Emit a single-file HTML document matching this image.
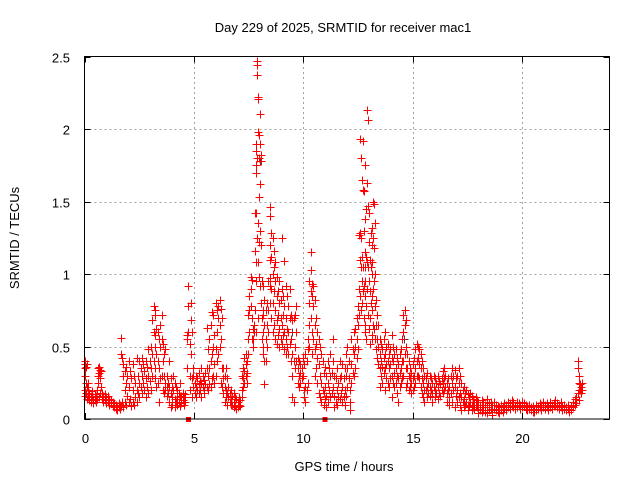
<!DOCTYPE html>
<html><head><meta charset="utf-8"><style>
html,body{margin:0;padding:0;background:#fff;}
svg{display:block;font-family:"Liberation Sans",sans-serif;}
</style></head><body>
<svg id="chart" width="640" height="480" viewBox="0 0 640 480">
<rect x="0" y="0" width="640" height="480" fill="#fff"/>
<text x="343" y="32" font-size="13" text-anchor="middle" fill="#000">Day 229 of 2025, SRMTID for receiver mac1</text>
<text x="344" y="471" font-size="13" text-anchor="middle" fill="#000">GPS time / hours</text>
<text x="19" y="238" font-size="13" text-anchor="middle" fill="#000" transform="rotate(-90 19 238)">SRMTID / TECUs</text>
<g id="grid"></g>
<g id="ticks"></g>
<g id="marks" shape-rendering="crispEdges"></g>
<rect x="84.5" y="56.5" width="525" height="362.5" fill="none" stroke="#000" stroke-width="1"/>
</svg>
<script>
const xTicks = [0, 5, 10, 15, 20];
const yTicks = [0, 0.5, 1, 1.5, 2, 2.5];
const yTickLabels = ["0", "0.5", "1", "1.5", "2", "2.5"];
// each entry: [time in hours, value, value, ...]
const srmtid = [
[0.00,.38,.30,.20],[0.03,.40,.35,.16],[0.06,.36,.25,.18],[0.1,.38,.14,.22],[0.14,.17,.25],[0.18,.15,.20],[0.22,.13,.18],[0.28,.16,.12],[0.34,.15,.19],[0.4,.14,.11],[0.46,.17,.13],[0.52,.12,.16],[0.58,.14,.20],[0.62,.35,.30,.25],[0.66,.36,.32,.15],[0.7,.34,.28,.18],[0.74,.33,.22],[0.8,.18,.14],[0.86,.16,.12],[0.92,.17,.13],[1.0,.15,.11],[1.06,.16,.12],[1.12,.14,.10],[1.2,.13,.11],[1.28,.12,.09],[1.35,.11,.08],[1.42,.10,.07],[1.5,.09,.06],[1.56,.08,.11],[1.62,.07,.10],[1.68,.56,.45,.09],[1.72,.42,.12],[1.78,.38,.30,.08],[1.84,.33,.20,.12],[1.9,.36,.25,.10],[1.96,.30,.16],[2.02,.40,.22,.12],[2.08,.33,.14],[2.14,.28,.09],[2.2,.38,.20,.12],[2.26,.30,.10],[2.32,.15,.25],[2.38,.20,.42,.12],[2.44,.30,.18],[2.5,.40,.25,.15],[2.56,.35,.22],[2.62,.42,.30,.18],[2.68,.38,.25],[2.74,.33,.20],[2.8,.40,.28,.15],[2.86,.36,.22],[2.92,.48,.30,.18],[2.98,.40,.26],[3.04,.50,.35,.20],[3.1,.68,.45,.30],[3.16,.78,.60,.40],[3.2,.75,.50,.28],[3.24,.72,.58,.35],[3.28,.62,.45,.22],[3.34,.60,.40,.25],[3.4,.55,.35,.12],[3.46,.65,.50,.28],[3.52,.72,.55,.30],[3.58,.52,.40,.20],[3.64,.45,.30,.18],[3.7,.48,.25,.20],[3.76,.30,.22,.16],[3.82,.25,.18],[3.88,.40,.22,.12],[3.94,.28,.18,.08],[4.0,.22,.15,.10],[4.06,.30,.20],[4.12,.25,.14,.08],[4.18,.22,.12],[4.24,.20,.15,.10],[4.3,.18,.12],[4.36,.25,.16,.09],[4.42,.16,.11],[4.48,.18,.13],[4.54,.15,.10],[4.6,.17,.12],[4.68,.58,.55,.35],[4.74,.92,.78,.60],[4.8,.52,.30,.20],[4.86,.80,.68,.45],[4.92,.60,.28,.15],[4.98,.35,.22,.30],[5.04,.25,.18],[5.1,.30,.22,.15],[5.16,.28,.20],[5.22,.32,.24,.18],[5.28,.26,.20],[5.34,.35,.25,.15],[5.4,.30,.22],[5.46,.27,.20,.18],[5.52,.32,.24],[5.58,.63,.35,.22],[5.64,.48,.30,.20],[5.7,.55,.35,.24],[5.76,.65,.40,.22],[5.82,.74,.45,.28],[5.88,.72,.50,.30],[5.94,.58,.38,.25],[6.0,.80,.48,.30],[6.06,.75,.60,.40],[6.12,.78,.70,.45],[6.18,.82,.65,.50],[6.22,.76,.55,.25],[6.28,.70,.35,.22],[6.34,.35,.28,.18],[6.4,.30,.22,.12],[6.46,.35,.20,.15],[6.52,.28,.18,.10],[6.58,.22,.15],[6.64,.18,.12],[6.7,.20,.14,.10],[6.76,.16,.10],[6.82,.18,.12,.08],[6.88,.15,.09],[6.94,.14,.07],[7.0,.12,.08],[7.06,.15,.10],[7.12,.13,.09],[7.18,.20,.30,.15],[7.24,.35,.28,.22],[7.3,.42,.33,.25],[7.36,.45,.38,.30],[7.42,.40,.32,.25],[7.48,.55,.72,.45],[7.54,.85,.75,.60],[7.6,.98,.90,.78],[7.64,.96,.70,.55],[7.68,.62,.55,.50],[7.74,.65,.60],[7.78,1.42,1.16,.75],[7.82,1.90,1.75,1.42,.95],[7.86,1.85,1.70,1.08,.60],[7.9,2.47,2.44,2.37,1.80,1.25],[7.94,2.22,2.21,1.98,1.35,1.08,.70],[7.98,1.96,1.80,1.53,1.22,.98],[8.02,2.10,1.90,1.62,1.30,.92],[8.06,1.82,1.78,1.20,.80],[8.1,.95,.70,.55],[8.14,.75,.60,.45],[8.18,.92,.72,.50],[8.22,.82,.65,.40,.24],[8.28,.75,.55,.40],[8.34,.80,.65,.50],[8.4,.95,.75,.60],[8.46,1.40,1.10,.92],[8.5,1.46,1.20,.97,.80],[8.54,1.28,1.12,.90,.70],[8.6,1.25,1.00,.80,.60],[8.66,1.16,1.05,.88,.65],[8.72,1.08,.95,.75,.55],[8.78,.98,.85,.68,.52],[8.84,.88,.72,.58],[8.9,.95,.80,.62,.50],[8.96,.82,.70,.55],[9.02,1.25,.90,.65,.52],[9.08,.85,.72,.58],[9.14,1.09,.78,.60,.48],[9.2,.92,.70,.55,.45],[9.26,.85,.62,.50],[9.32,.78,.60,.45],[9.38,.90,.70,.52],[9.44,.72,.55,.40],[9.5,.68,.45,.30,.15],[9.56,.70,.40,.12],[9.62,.72,.50,.35],[9.68,.78,.60,.40],[9.74,.42,.35,.25],[9.8,.40,.30,.22],[9.86,.38,.32,.25],[9.92,.35,.28],[9.98,.42,.30],[10.04,.38,.20,.15],[10.1,.45,.22,.12],[10.16,.40,.20],[10.22,.55,.48,.25],[10.28,.95,.80,.65,.50],[10.34,1.15,1.03,.88,.70],[10.4,.93,.85,.60,.45],[10.46,.92,.78,.55],[10.52,.82,.65,.48,.30],[10.58,.70,.52,.35],[10.64,.60,.42,.25],[10.7,.55,.38,.18],[10.76,.50,.30,.15],[10.82,.45,.25,.12],[10.88,.40,.20],[10.94,.32,.18,.10],[11.0,.36,.22,.14],[11.06,.30,.16,.08],[11.12,.40,.25,.12],[11.18,.35,.20],[11.24,.45,.30,.15],[11.3,.32,.18],[11.36,.55,.40,.22],[11.42,.30,.16,.08],[11.48,.28,.12],[11.54,.35,.20,.10],[11.6,.25,.15],[11.66,.40,.28,.14],[11.72,.30,.18],[11.78,.38,.22,.12],[11.84,.28,.15],[11.9,.35,.20,.10],[11.96,.45,.30,.16],[12.02,.50,.35,.22],[12.08,.40,.28],[12.14,.20,.12,.06],[12.2,.55,.38,.25],[12.26,.48,.32],[12.32,.60,.45,.30],[12.38,.62,.50,.35],[12.44,.70,.55,.42],[12.5,.78,.65,.48],[12.56,1.27,.90,.72],[12.6,1.93,1.28,1.10,.85],[12.64,1.80,1.25,1.05,.75],[12.68,1.65,1.12,.95,.80],[12.72,1.92,1.58,1.05,.88],[12.76,1.57,1.30,.92,.70],[12.8,1.38,1.15,.95,.65],[12.84,1.75,1.05,.85,.60],[12.88,1.45,1.12,.78,.55],[12.92,2.13,1.63,1.08,.90],[12.96,2.06,1.47,1.05,.72],[13.0,1.42,1.22,.95,.62],[13.04,1.10,.88,.70,.52],[13.08,1.28,1.05,.80],[13.12,1.20,1.00,.75,.55],[13.16,1.32,1.08,.85,.58],[13.2,1.50,1.25,.90,.65],[13.24,1.48,1.18,.95,.62],[13.28,1.35,1.00,.78,.55],[13.32,.82,.65,.48],[13.38,.72,.55,.42],[13.44,.65,.50,.38],[13.5,.55,.45,.35,.22],[13.56,.52,.40,.30],[13.62,.48,.36,.25],[13.68,.55,.42,.32],[13.74,.60,.45,.35,.20],[13.8,.50,.38,.28],[13.86,.52,.40,.25],[13.92,.45,.35,.22],[13.98,.48,.38,.28],[14.04,.58,.42,.30,.15],[14.1,.50,.40,.25],[14.16,.45,.32,.22],[14.22,.48,.35,.25],[14.28,.42,.30,.18],[14.34,.38,.28,.12],[14.4,.45,.32,.22],[14.46,.48,.35,.25],[14.52,.55,.40,.28],[14.58,.72,.60,.40,.30],[14.64,.75,.65,.45],[14.7,.68,.50,.35,.22],[14.76,.45,.35,.25],[14.82,.40,.30,.20],[14.88,.35,.28,.22],[14.94,.32,.25,.18],[15.0,.38,.28,.20],[15.06,.42,.30,.22],[15.12,.48,.35,.25],[15.18,.52,.40,.30],[15.24,.50,.42,.30],[15.3,.48,.38,.28],[15.36,.45,.35,.22],[15.42,.40,.28,.18],[15.48,.35,.25,.15],[15.54,.30,.20,.12],[15.6,.28,.20],[15.66,.32,.22,.15],[15.72,.25,.18],[15.78,.30,.22,.16],[15.84,.28,.20],[15.9,.25,.18,.12],[15.96,.30,.22],[16.02,.28,.20,.15],[16.08,.25,.18],[16.14,.30,.22,.14],[16.2,.26,.18],[16.26,.24,.16],[16.32,.28,.20],[16.38,.33,.25,.18],[16.44,.35,.28,.20],[16.5,.30,.22],[16.56,.25,.18,.12],[16.62,.28,.20],[16.68,.22,.15,.10],[16.74,.30,.18],[16.8,.35,.25,.12],[16.86,.30,.20],[16.92,.34,.22,.08],[16.98,.28,.16],[17.04,.30,.20,.12],[17.1,.35,.25,.15],[17.16,.30,.18,.10],[17.22,.25,.15,.06],[17.28,.20,.12],[17.34,.22,.14,.08],[17.4,.18,.10],[17.46,.20,.12],[17.52,.17,.10,.06],[17.58,.15,.09],[17.64,.18,.12],[17.7,.16,.10,.06],[17.76,.14,.08],[17.82,.12,.07],[17.88,.15,.10],[17.94,.13,.08],[18.0,.12,.07,.04],[18.08,.10,.06],[18.16,.13,.08,.05],[18.24,.12,.06],[18.32,.10,.05],[18.4,.14,.08,.04],[18.48,.11,.06],[18.56,.12,.07],[18.64,.10,.05,.03],[18.72,.12,.07],[18.8,.10,.06],[18.88,.09,.05],[18.96,.08,.04],[19.04,.10,.06],[19.12,.09,.05],[19.2,.11,.07],[19.28,.10,.06],[19.36,.12,.08],[19.44,.11,.07],[19.52,.13,.09],[19.6,.12,.08],[19.68,.10,.07],[19.76,.12,.08],[19.84,.11,.09],[19.92,.10,.07],[20.0,.12,.08],[20.08,.11,.09],[20.16,.10,.07],[20.24,.09,.06],[20.32,.10,.07],[20.4,.08,.06],[20.48,.09,.05],[20.56,.07,.05],[20.64,.10,.06],[20.72,.09,.07],[20.8,.11,.08],[20.88,.10,.06],[20.96,.12,.08],[21.04,.10,.07],[21.12,.11,.08],[21.2,.09,.06],[21.28,.12,.08],[21.36,.10,.07],[21.44,.11,.09],[21.52,.13,.09],[21.6,.11,.08],[21.68,.10,.07],[21.76,.12,.08],[21.84,.09,.06],[21.92,.10,.07],[22.0,.08,.06],[22.08,.10,.07],[22.16,.07,.05],[22.24,.09,.06],[22.32,.12,.08],[22.4,.14,.10],[22.48,.15,.11],[22.56,.40,.35,.18],[22.6,.30,.25,.20,.13],[22.64,.24,.20],[22.7,.22,.18],[22.76,.20,.25]
];
// darker underlying points visible in the reference
const greyPoints = [[7.9,2.37],[8.02,1.78],[10.34,1.15],[12.92,1.63],[13.2,1.5],[13.04,0.88],[9.5,0.6],[14.6,0.55],[11.2,0.45]];
// small marker squares on the x axis
const gapMarks = [4.75, 11.0];

const X0 = 84.5, X1 = 609.5, Y0 = 419, Y1 = 56.5;
const xMax = 24, yMax = 2.5;
function xs(t){ return X0 + (t / xMax) * (X1 - X0); }
function ys(v){ return Y0 - (v / yMax) * (Y0 - Y1); }

const NS = "http://www.w3.org/2000/svg";
const grid = document.getElementById("grid");
const ticks = document.getElementById("ticks");
const marks = document.getElementById("marks");

function mk(tag, attrs, parent){
  const e = document.createElementNS(NS, tag);
  for (const k in attrs) e.setAttribute(k, attrs[k]);
  parent.appendChild(e);
  return e;
}

yTicks.forEach((v, i) => {
  const y = Math.round(ys(v)) + 0.5;
  if (v > 0 && v < yMax) {
    const g = mk("line", {x1: X0, x2: X1, y1: y, y2: y, stroke: "#a0a0a0", "stroke-dasharray": "2,3"}, grid);
    
    
  }
  const t1 = mk("line", {x1: X0, x2: X0 + 6, y1: y, y2: y, stroke: "#000"}, ticks);
  
  
  const t2 = mk("line", {x1: X1 - 6, x2: X1, y1: y, y2: y, stroke: "#000"}, ticks);
  
  
  const lb = mk("text", {x: 70, y: y + 5, "font-size": 13, "text-anchor": "end", fill: "#000"}, ticks);
  lb.textContent = yTickLabels[i];
  
  
});
xTicks.forEach(v => {
  const x = Math.round(xs(v)) + 0.5;
  if (v > 0) {
    const g = mk("line", {x1: x, x2: x, y1: Y0, y2: Y1, stroke: "#a0a0a0", "stroke-dasharray": "2,3"}, grid);
    
    
  }
  const t1 = mk("line", {x1: x, x2: x, y1: Y0, y2: Y0 - 6, stroke: "#000"}, ticks);
  
  
  const t2 = mk("line", {x1: x, x2: x, y1: Y1, y2: Y1 + 6, stroke: "#000"}, ticks);
  
  
  const lb = mk("text", {x: x, y: 443, "font-size": 13, "text-anchor": "middle", fill: "#000"}, ticks);
  lb.textContent = String(v);
  
  
});

function plus(t, v, color, name){
  const x = Math.round(xs(t)) + 0.5, y = Math.round(ys(v)) + 0.5;
  const p = mk("path", {d: `M${x-4} ${y}H${x+4}M${x} ${y-4}V${y+4}`, stroke: color, "stroke-width": 1.3, fill: "none"}, marks);
  
  
}
greyPoints.forEach(p => plus(p[0], p[1], "#404040", "grey-point"));
srmtid.forEach(row => {
  for (let i = 1; i < row.length; i++) plus(row[0], row[i], "#ff0000", "srmtid-point");
});
gapMarks.forEach(t => {
  const r = mk("rect", {x: xs(t) - 2.5, y: Y0 - 2, width: 5, height: 5, fill: "#ff0000"}, marks);
  
  
});
</script>
</body></html>
